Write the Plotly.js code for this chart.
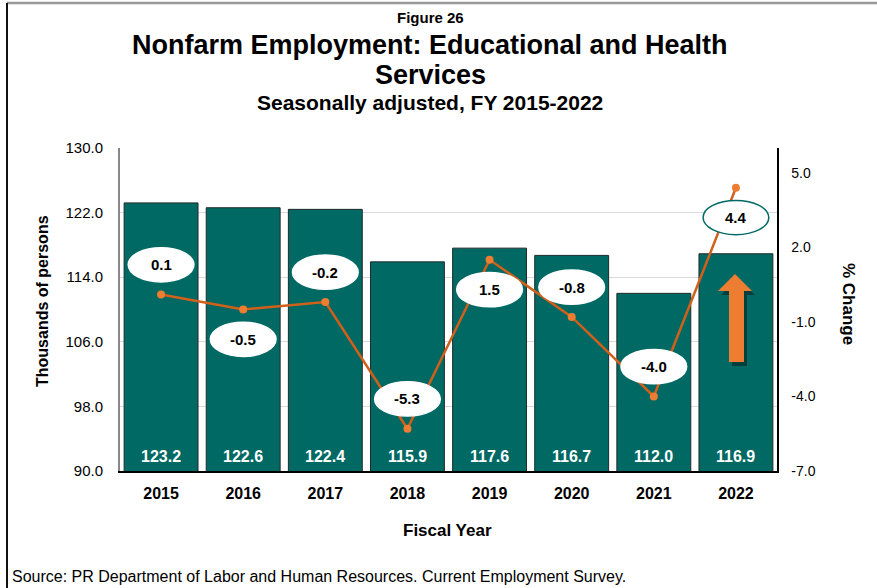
<!DOCTYPE html>
<html>
<head>
<meta charset="utf-8">
<script src="https://cdn.plot.ly/plotly-3.0.1.min.js"></script>
<style>
html,body{margin:0;padding:0;background:#fff;}
#chart{width:877px;height:588px;}
</style>
</head>
<body>
<div id="chart"></div>
<script>
// ---- Data ----
const years = ['2015','2016','2017','2018','2019','2020','2021','2022'];
const employment = [123.2, 122.6, 122.4, 115.9, 117.6, 116.7, 112.0, 116.9];
const pctChange = [0.1, -0.5, -0.2, -5.3, 1.5, -0.8, -4.0, 4.4];
const leftTicks = [90, 98, 106, 114, 122, 130];
const rightTicks = [-7, -4, -1, 2, 5];
const rightTickText = ['-7.0', '-4.0', '-1.0', '2.0', '5.0'];

// ---- Styling ----
const FONT = 'Liberation Sans, Arial, sans-serif';
const TEAL = '#006964';
const W = 877, H = 588;
const M = {l:120, r:100, t:148, b:117};
const plotW = W - M.l - M.r, plotH = H - M.t - M.b;
const py = p => (H - M.b - p) / plotH;   // pixel y -> paper y
const px = p => (p - M.l) / plotW;       // pixel x -> paper x

// label placement: above (+1) or below (-1) the point
const labelDir = [1, -1, 1, 1, -1, 1, 1, -1];
const labelGap = 1.2, ellH = 0.69, ellW = 0.4;

const traces = [
  {
    type: 'bar', x: years, y: employment, width: 0.9,
    marker: {color: TEAL, line: {color: '#1f2a2a', width: 1}},
    hoverinfo: 'skip', showlegend: false
  },
  {
    type: 'scatter', mode: 'lines+markers', x: years, y: pctChange, yaxis: 'y2',
    line: {color: '#D0601A', width: 2.5},
    marker: {color: '#ED7D31', size: 8},
    hoverinfo: 'skip', showlegend: false
  }
];

const shapes = [];
const annotations = [];

// ellipse labels for % change
pctChange.forEach((v, i) => {
  const cy = v + labelDir[i] * labelGap;
  shapes.push({
    type: 'circle', xref: 'x', yref: 'y2',
    x0: i - ellW, x1: i + ellW, y0: cy - ellH, y1: cy + ellH,
    fillcolor: '#ffffff',
    line: {color: i === pctChange.length - 1 ? TEAL : '#ffffff', width: 1.5},
    layer: 'above'
  });
  annotations.push({
    xref: 'x', yref: 'y2', x: i, y: cy, showarrow: false,
    xanchor: 'center', yanchor: 'middle',
    text: '<b>' + v.toFixed(1) + '</b>',
    font: {family: FONT, size: 15, color: '#000'}
  });
});

// bar value labels
employment.forEach((v, i) => {
  annotations.push({
    xref: 'x', yref: 'y', x: i, y: 90, xanchor: 'center', yanchor: 'bottom', yshift: 4, showarrow: false,
    text: '<b>' + v.toFixed(1) + '</b>',
    font: {family: FONT, size: 16, color: '#ffffff'}
  });
});

// up arrow (shadow + arrow)
function arrowPath(dx, dy) {
  const pts = [[735,274],[752,291],[744,291],[744,362],[729,362],[729,291],[718,291]];
  return 'M ' + pts.map(p => px(p[0]+dx) + ',' + py(p[1]+dy)).join(' L ') + ' Z';
}
shapes.push({type:'path', xref:'paper', yref:'paper', path: arrowPath(3,4),
  fillcolor:'rgba(0,30,30,0.55)', line:{width:0}, layer:'above'});
shapes.push({type:'path', xref:'paper', yref:'paper', path: arrowPath(0,0),
  fillcolor:'#ED7D31', line:{width:0}, layer:'above'});

// frame
shapes.push({type:'line', xref:'paper', yref:'paper', x0: px(7), x1: px(877), y0: py(3), y1: py(3),
  line:{color:'#999', width:2.5}});
shapes.push({type:'line', xref:'paper', yref:'paper', x0: px(7), x1: px(7), y0: py(3), y1: py(588),
  line:{color:'#111', width:2}});

// titles
const titleLines = [
  {t:'<b>Figure 26</b>', y:17, s:15},
  {t:'<b>Nonfarm Employment: Educational and Health</b>', y:45, s:27},
  {t:'<b>Services</b>', y:75, s:27},
  {t:'<b>Seasonally adjusted, FY 2015-2022</b>', y:103, s:21}
];
titleLines.forEach(l => annotations.push({
  xref:'paper', yref:'paper', x: px(430), y: py(l.y), xanchor:'center', yanchor:'middle',
  showarrow:false, text:l.t, font:{family:FONT, size:l.s, color:'#000'}
}));

annotations.push({xref:'paper', yref:'paper', x: px(42), y: py(301), textangle:-90,
  xanchor:'center', yanchor:'middle',
  showarrow:false, text:'<b>Thousands of persons</b>', font:{family:FONT, size:16, color:'#000'}});
annotations.push({xref:'paper', yref:'paper', x: px(849), y: py(304), textangle:90,
  xanchor:'center', yanchor:'middle',
  showarrow:false, text:'<b>% Change</b>', font:{family:FONT, size:17, color:'#000'}});
annotations.push({xref:'paper', yref:'paper', x: px(447), y: py(530),
  xanchor:'center', yanchor:'middle',
  showarrow:false, text:'<b>Fiscal Year</b>', font:{family:FONT, size:17, color:'#000'}});
annotations.push({xref:'paper', yref:'paper', x: px(10), y: py(576), xanchor:'left', yanchor:'middle',
  showarrow:false, text:'Source: PR Department of Labor and Human Resources. Current Employment Survey.',
  font:{family:FONT, size:16, color:'#000'}});

const layout = {
  width: W, height: H,
  margin: M,
  paper_bgcolor: '#fff', plot_bgcolor: '#fff',
  font: {family: FONT, color: '#000'},
  showlegend: false,
  bargap: 0.1,
  xaxis: {
    type: 'category', showline: true, linecolor: '#000', linewidth: 2,
    ticks: 'outside', ticklen: 7, tickcolor: 'rgba(0,0,0,0)',
    tickfont: {family: FONT, size: 16, color: '#000', weight: 'bold'},
    showgrid: false, zeroline: false
  },
  yaxis: {
    range: [90, 130], tickvals: leftTicks, tickformat: '.1f',
    showline: true, linecolor: '#888', linewidth: 2,
    showgrid: true, gridcolor: '#d9d9d9', gridwidth: 1,
    ticks: 'outside', ticklen: 12, tickcolor: 'rgba(0,0,0,0)',
    tickfont: {family: FONT, size: 15, color: '#000'}, zeroline: false
  },
  yaxis2: {
    overlaying: 'y', side: 'right', range: [-7, 6],
    tickmode: 'array', tickvals: rightTicks, ticktext: rightTickText,
    showline: true, linecolor: '#000', linewidth: 1.5,
    showgrid: false, zeroline: false,
    ticks: 'outside', ticklen: 10, tickcolor: 'rgba(0,0,0,0)',
    tickfont: {family: FONT, size: 14, color: '#000'}
  },
  shapes: shapes,
  annotations: annotations
};

Plotly.newPlot('chart', traces, layout, {displayModeBar: false, staticPlot: true});
</script>
</body>
</html>
